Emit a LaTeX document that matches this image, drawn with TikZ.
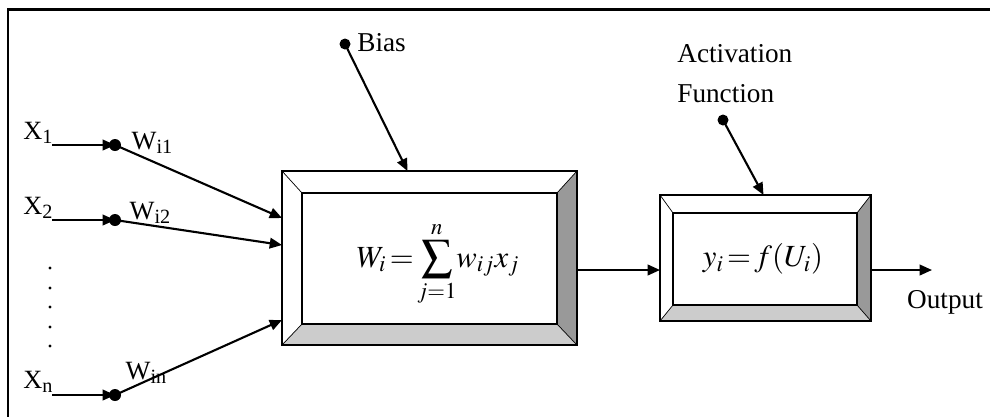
\documentclass[tikz,border=0pt]{standalone}
\usepackage{mathptmx}
\usepackage[no-math]{fontspec}
\setmainfont{Liberation Serif}
\usetikzlibrary{arrows.meta, calc, positioning}
\definecolor{BevelDark}{RGB}{153,153,153}
\definecolor{BevelLight}{RGB}{204,204,204}
\newcommand{\sublbl}[2]{#1\raisebox{-2.5pt}{\fontsize{11.5}{12}\selectfont #2}}
% bevelled frame between an outer and an inner node
\newcommand{\bevel}[2]{%
  \fill[BevelDark] (#1.north east) -- (#1.south east) -- (#2.south east) -- (#2.north east) -- cycle;
  \fill[BevelLight] (#1.south west) -- (#1.south east) -- (#2.south east) -- (#2.south west) -- cycle;
  \draw[thin] (#1.north west) -- (#2.north west) (#1.north east) -- (#2.north east)
              (#1.south west) -- (#2.south west) (#1.south east) -- (#2.south east);
  \draw[line width=1.2pt] (#2.south west) rectangle (#2.north east);
  \draw[line width=1.6pt] (#1.south west) rectangle (#1.north east);
}

\begin{document}
\begin{tikzpicture}[
        x=0.02cm, y=-0.02cm,
        box/.style={
            rectangle,
            inner sep=0pt,
            outer sep=0pt
        },
        dot/.style={
            circle,
            fill=black,
            inner sep=0pt,
            minimum size=0.24cm
        },
        lbl/.style={
            inner sep=0pt,
            font=\fontsize{15}{17}\selectfont
        },
        txt/.style={
            inner sep=0pt,
            font=\fontsize{15.5}{18}\selectfont
        },
        arrow/.style={
            -{Triangle[length=7pt,width=6pt]},
            line width=1.2pt
        }
    ]
        \useasboundingbox (0,0) rectangle (990,417);
        % Frame (top and left edges only)
        \draw[line width=1.7pt] (990,9) -- (8,9) -- (8,417);

        % Summation block
        \node[box, minimum width=5.9cm, minimum height=3.48cm] (sum) at (429.5,258) {};
        \node[box, minimum width=5.1cm, minimum height=2.62cm] (sumin) at (429.5,258.5) {};
        \bevel{sum}{sumin}
        \node (sumeq) at (438,264) {\fontsize{17.5}{20}\selectfont$\displaystyle W_i\!=\!\sum_{j=1}^{n}\!w_{ij}x_j$};

        % Activation block
        \node[box, minimum width=4.22cm, minimum height=2.52cm] (act) at (765.5,258) {};
        \node[box, minimum width=3.68cm, minimum height=1.84cm] (actin) at (765,259) {};
        \bevel{act}{actin}
        \node (acteq) at (763,259) {\fontsize{17.5}{20}\selectfont$y_i\!=\!f(U_i)$};

        % Inputs and weights
        \coordinate (s1) at (52,145);
        \coordinate (s2) at (52,220);
        \coordinate (sn) at (52,395);
        \node[dot] (d1) at (115,145) {};
        \node[dot] (d2) at (115,220) {};
        \node[dot] (dn) at (115,395) {};
        \node[lbl] (x1) at (38,133) {\sublbl{X}{1}};
        \node[lbl] (x2) at (38,208) {\sublbl{X}{2}};
        \node[lbl] (xn) at (38,382) {\sublbl{X}{n}};
        \node[lbl] (w1) at (152,143) {\sublbl{W}{i1}};
        \node[lbl] (w2) at (150,213) {\sublbl{W}{i2}};
        \node[lbl] (wn) at (146,373) {\sublbl{W}{in}};
        \foreach \y in {268,288,307,327,346}
            \fill (50,\y) circle (0.9pt);

        \draw[arrow] (s1) -- (d1.center);
        \draw[arrow] (s2) -- (d2.center);
        \draw[arrow] (sn) -- (dn.center);
        \draw[arrow] (d1.center) -- ($(sum.west)+(0,-40)$);
        \draw[arrow] (d2.center) -- ($(sum.west)+(0,-13)$);
        \draw[arrow] (dn.center) -- ($(sum.west)+(0,62)$);

        % Bias
        \node[dot, minimum size=0.22cm] (bias) at (345,44) {};
        \node[txt, anchor=west] (biaslbl) at (357,43) {Bias};
        \draw[arrow] (bias.center) -- ($(sum.north)+(-22,0)$);

        % Activation function
        \node[txt, anchor=north west, align=left, font=\fontsize{15.5}{22.7}\selectfont] (actlbl) at (677,44) {Activation\\Function};
        \node[dot, minimum size=0.22cm] (actdot) at (723,120) {};
        \draw[arrow] (actdot.center) -- ($(act.north)+(-2,0)$);

        % Connections and output
        \draw[arrow] ($(sum.east)+(0,12)$) -- ($(act.west)+(0,12)$);
        \coordinate (out) at (932,270);
        \draw[arrow] ($(act.east)+(0,12)$) -- (out);
        \node[txt] (outlbl) at (945,302) {Output};
    \end{tikzpicture}
\end{document}
